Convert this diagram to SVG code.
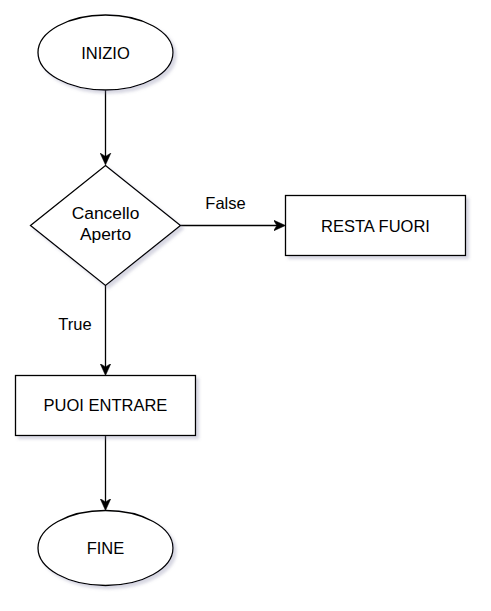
<svg xmlns="http://www.w3.org/2000/svg" width="491" height="611" viewBox="0 0 491 611">
<style>
.shape{fill:#ffffff;stroke:#000000;stroke-width:1.3;filter:url(#sh)}
.lbl{font-family:"Liberation Sans",Arial,sans-serif;font-size:16.5px;fill:#000000;text-anchor:middle}
.big{font-size:17.4px}
.edge{fill:none;stroke:#000000;stroke-width:1.3}
</style>
<defs>
<filter id="sh" x="-20%" y="-20%" width="150%" height="150%">
<feGaussianBlur in="SourceAlpha" stdDeviation="1.5" result="b"/>
<feOffset dx="3" dy="3" in="b" result="o"/>
<feColorMatrix in="o" type="matrix" values="0 0 0 0 0.2  0 0 0 0 0.2  0 0 0 0 0.35  0 0 0 0.3 0" result="c"/>
<feMerge><feMergeNode in="c"/><feMergeNode in="SourceGraphic"/></feMerge>
</filter>
<marker id="arr" viewBox="0 0 12 12" refX="9" refY="6" markerWidth="12" markerHeight="12" markerUnits="userSpaceOnUse" orient="auto">
<path d="M0,0.6 L12,6 L0,11.4 L3.4,6 Z" fill="#000000" stroke="#000000" stroke-width="0.5"/>
</marker>
</defs>
<g id="connectors">
<path class="edge" d="M105.5,90 L105.5,162" marker-end="url(#arr)"/>
<path class="edge" d="M180.5,225.5 L282.5,225.5" marker-end="url(#arr)"/>
<path class="edge" d="M105.5,285.5 L105.5,372.5" marker-end="url(#arr)"/>
<path class="edge" d="M105.5,435.5 L105.5,507.5" marker-end="url(#arr)"/>
<text class="lbl" x="225.5" y="209">False</text>
<text class="lbl" x="75" y="329.5">True</text>
</g>
<g id="inizio">
<ellipse class="shape" cx="105.5" cy="52.5" rx="67.5" ry="37.5"/>
<text class="lbl" x="105.5" y="58.5">INIZIO</text>
</g>
<g id="cancello">
<path class="shape" d="M105.5,165.5 L180.5,225.5 L105.5,285.5 L30.5,225.5 Z"/>
<text class="lbl big" x="105.5" y="219">Cancello</text>
<text class="lbl big" x="105.5" y="240">Aperto</text>
</g>
<g id="resta">
<rect class="shape" x="285.5" y="195.5" width="180" height="60"/>
<text class="lbl" x="375.5" y="231.5">RESTA FUORI</text>
</g>
<g id="puoi">
<rect class="shape" x="15.5" y="375.5" width="180" height="60"/>
<text class="lbl" x="105.5" y="411">PUOI ENTRARE</text>
</g>
<g id="fine">
<ellipse class="shape" cx="105.5" cy="548" rx="67.5" ry="37.5"/>
<text class="lbl" x="105.5" y="554">FINE</text>
</g>
</svg>
